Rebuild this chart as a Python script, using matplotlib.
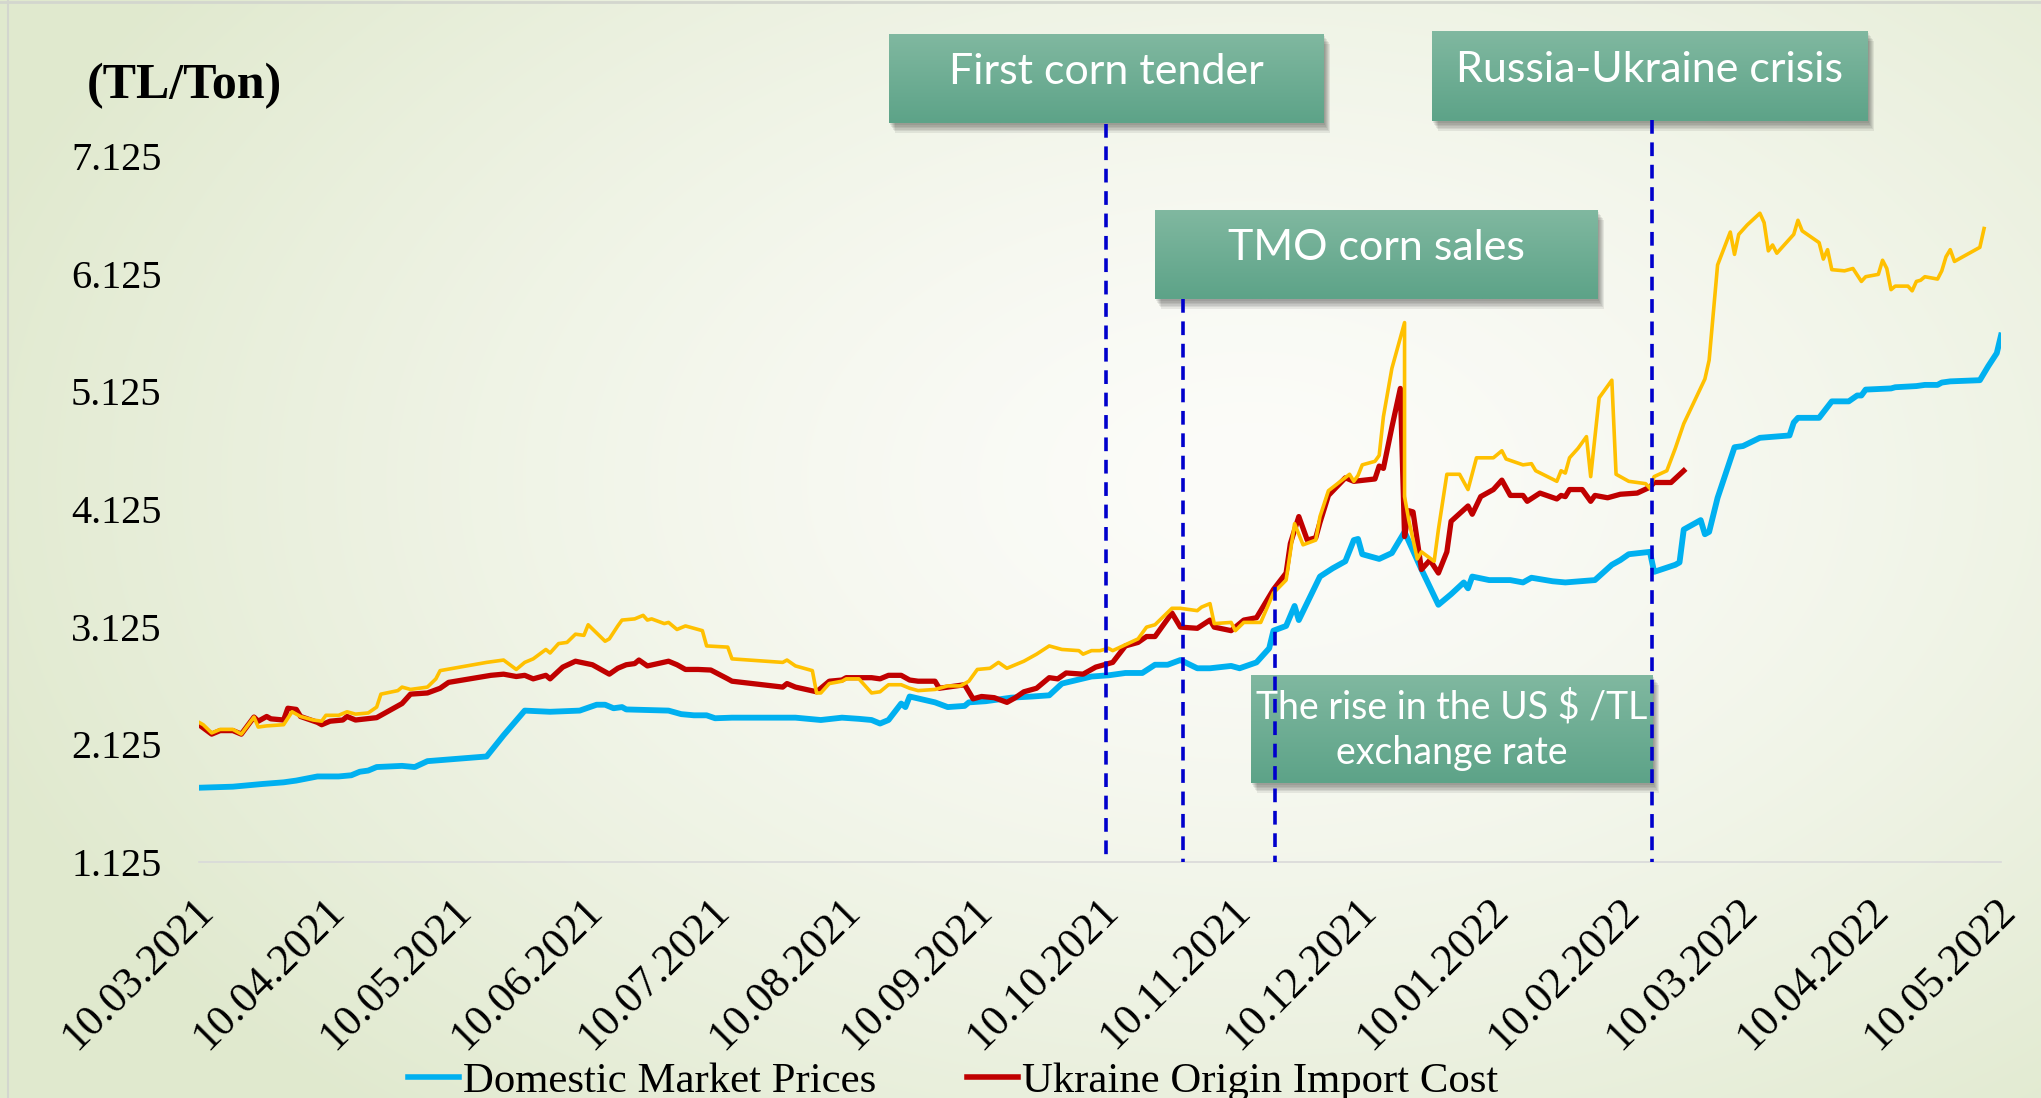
import numpy as np
import matplotlib.pyplot as plt
import matplotlib.dates as mdates
import matplotlib.transforms as mtransforms
from matplotlib.patches import Rectangle
from matplotlib.lines import Line2D

plt.rcParams['font.family'] = 'serif'
plt.rcParams['font.serif'] = ['Liberation Serif', 'DejaVu Serif']

start = np.datetime64('2021-03-10')
end = np.datetime64('2022-05-10')

# days after 10.03.2021 and values (TL/Ton)
dom_days = [0, 8, 15, 20, 23, 28, 33, 36, 38, 40, 42, 48, 51, 54, 68, 72, 77, 83, 90, 94, 96, 98,
            100, 101, 111, 114, 117, 120, 122, 126, 141, 147, 152, 156, 159, 161, 163, 166, 167,
            168, 174, 177, 181, 182, 186, 192, 197, 201, 204, 211, 215, 219, 223, 226, 229, 232,
            236, 239, 244, 246, 250, 253, 254, 257, 259, 260, 265, 268, 271, 273, 274, 275, 279,
            282, 285, 289, 293, 296, 299, 300, 301, 305, 310, 313, 315, 320, 323, 330, 334, 336,
            338, 343, 344, 349, 350, 351, 355, 356, 357, 359, 363, 365, 369, 376, 377, 378, 383,
            386, 390, 392, 393, 394, 400, 401, 406, 408, 411, 412, 414, 421, 422, 423, 425, 426]
dom_vals = [1.754, 1.763, 1.786, 1.80, 1.815, 1.85, 1.85, 1.86, 1.89, 1.90, 1.93, 1.94, 1.93, 1.98,
            2.02, 2.20, 2.41, 2.40, 2.41, 2.46, 2.46, 2.43, 2.44, 2.42, 2.41, 2.38, 2.37, 2.37,
            2.345, 2.35, 2.35, 2.33, 2.35, 2.34, 2.33, 2.30, 2.33, 2.47, 2.44, 2.53, 2.48, 2.44,
            2.45, 2.48, 2.49, 2.52, 2.53, 2.54, 2.64, 2.70, 2.71, 2.73, 2.73, 2.80, 2.80, 2.84,
            2.77, 2.77, 2.79, 2.77, 2.82, 2.94, 3.09, 3.13, 3.30, 3.18, 3.55, 3.62, 3.68, 3.86,
            3.87, 3.74, 3.70, 3.75, 3.93, 3.61, 3.31, 3.40, 3.50, 3.45, 3.55, 3.52, 3.52, 3.50,
            3.54, 3.51, 3.50, 3.52, 3.65, 3.69, 3.74, 3.76, 3.59, 3.65, 3.67, 3.95, 4.03, 3.91,
            3.93, 4.22, 4.65, 4.66, 4.73, 4.75, 4.86, 4.90, 4.90, 5.04, 5.04, 5.09, 5.09, 5.14,
            5.15, 5.16, 5.17, 5.18, 5.18, 5.20, 5.21, 5.22, 5.28, 5.34, 5.45, 5.60]

ukr_days = [0, 3, 5, 8, 10, 13, 14, 16, 17, 20, 21, 23, 24, 28, 29, 31, 34, 35, 37, 42, 48, 50,
            54, 57, 59, 69, 72, 75, 77, 79, 82, 83, 86, 89, 93, 97, 99, 101, 103, 104, 106, 111,
            113, 115, 118, 121, 125, 126, 138, 139, 141, 146, 149, 152, 153, 159, 161, 163, 166,
            168, 170, 174, 175, 181, 183, 185, 188, 191, 193, 195, 198, 201, 203, 205, 209, 212,
            216, 219, 222, 224, 226, 230, 232, 236, 239, 240, 244, 247, 250, 254, 257, 258, 260,
            262, 264, 265, 267, 271, 273, 278, 279, 280, 282, 284, 285, 286, 287, 289, 291, 293,
            295, 296, 300, 301, 303, 306, 308, 310, 313, 314, 317, 321, 322, 323, 324, 327, 329,
            330, 333, 336, 340, 343, 344, 348, 351]
ukr_vals = [2.29, 2.21, 2.24, 2.24, 2.21, 2.355, 2.32, 2.36, 2.34, 2.33, 2.43, 2.42, 2.36, 2.31,
            2.29, 2.32, 2.33, 2.36, 2.33, 2.35, 2.47, 2.55, 2.56, 2.60, 2.65, 2.71, 2.72, 2.70,
            2.71, 2.68, 2.71, 2.68, 2.78, 2.83, 2.80, 2.72, 2.77, 2.80, 2.81, 2.84, 2.79, 2.83,
            2.80, 2.76, 2.76, 2.755, 2.68, 2.66, 2.61, 2.64, 2.61, 2.57, 2.66, 2.67, 2.69, 2.69,
            2.68, 2.71, 2.71, 2.67, 2.66, 2.66, 2.60, 2.63, 2.51, 2.53, 2.52, 2.48, 2.52, 2.57,
            2.60, 2.69, 2.68, 2.73, 2.72, 2.78, 2.82, 2.96, 2.99, 3.04, 3.04, 3.24, 3.12, 3.11,
            3.18, 3.12, 3.09, 3.18, 3.20, 3.44, 3.58, 3.83, 4.06, 3.86, 3.88, 4.01, 4.24, 4.39,
            4.36, 4.38, 4.49, 4.47, 4.82, 5.15, 3.89, 4.11, 4.10, 3.61, 3.69, 3.58, 3.76, 4.02,
            4.15, 4.08, 4.23, 4.29, 4.37, 4.24, 4.24, 4.19, 4.26, 4.21, 4.24, 4.23, 4.29, 4.29,
            4.19, 4.24, 4.22, 4.25, 4.26, 4.31, 4.35, 4.35, 4.45]

oth_days = [0, 1, 3, 5, 8, 10, 13, 14, 16, 20, 22, 24, 27, 29, 30, 33, 35, 37, 40, 42, 43, 47,
            48, 50, 54, 56, 57, 68, 72, 75, 77, 79, 82, 83, 85, 87, 89, 91, 92, 96, 97, 99, 100,
            103, 105, 106, 107, 110, 111, 113, 115, 119, 120, 125, 126, 138, 139, 141, 142, 145,
            146, 147, 149, 152, 153, 156, 159, 161, 163, 166, 168, 170, 174, 177, 180, 182, 184,
            187, 189, 191, 195, 198, 201, 204, 208, 209, 211, 213, 215, 216, 219, 222, 224, 226,
            230, 232, 236, 237, 239, 240, 244, 245, 247, 251, 254, 257, 259, 261, 264, 265, 267,
            272, 273, 274, 275, 278, 279, 280, 282, 285, 285, 286, 288, 289, 292, 293, 295, 298,
            300, 302, 306, 308, 309, 313, 315, 316, 321, 322, 323, 324, 326, 328, 329, 331, 334,
            335, 336, 338, 342, 343, 344, 347, 349, 351, 356, 357, 359, 362, 363, 364, 366, 369,
            370, 371, 372, 373, 377, 378, 379, 383, 384, 385, 386, 389, 391, 393, 394, 397, 398,
            399, 400, 401, 404, 405, 406, 407, 408, 411, 412, 413, 414, 415, 421, 422]
oth_vals = [2.31, 2.29, 2.22, 2.25, 2.25, 2.21, 2.355, 2.27, 2.28, 2.29, 2.40, 2.36, 2.33, 2.32,
            2.37, 2.37, 2.40, 2.38, 2.39, 2.44, 2.55, 2.58, 2.61, 2.59, 2.61, 2.68, 2.75, 2.82,
            2.84, 2.76, 2.82, 2.85, 2.93, 2.90, 2.98, 2.99, 3.06, 3.05, 3.14, 3.00, 3.02, 3.13,
            3.18, 3.19, 3.22, 3.18, 3.19, 3.15, 3.16, 3.10, 3.13, 3.09, 2.96, 2.95, 2.85, 2.82,
            2.84, 2.79, 2.78, 2.75, 2.56, 2.56, 2.64, 2.66, 2.68, 2.68, 2.56, 2.57, 2.63, 2.63,
            2.60, 2.58, 2.59, 2.62, 2.62, 2.66, 2.76, 2.77, 2.82, 2.77, 2.83, 2.89, 2.96, 2.93,
            2.92, 2.89, 2.92, 2.92, 2.94, 2.92, 2.97, 3.02, 3.12, 3.14, 3.28, 3.28, 3.26, 3.29,
            3.32, 3.15, 3.16, 3.09, 3.16, 3.16, 3.41, 3.52, 4.00, 3.82, 3.86, 4.06, 4.28, 4.42,
            4.36, 4.41, 4.50, 4.53, 4.58, 4.91, 5.32, 5.71, 4.23, 4.03, 3.70, 3.76, 3.68, 3.95,
            4.42, 4.42, 4.29, 4.56, 4.56, 4.62, 4.55, 4.50, 4.51, 4.45, 4.36, 4.45, 4.43, 4.56,
            4.64, 4.74, 4.40, 5.07, 5.22, 4.42, 4.40, 4.36, 4.34, 4.30, 4.40, 4.45, 4.64, 4.85,
            5.23, 5.39, 6.20, 6.48, 6.29, 6.46, 6.54, 6.64, 6.56, 6.32, 6.37, 6.30, 6.46, 6.58,
            6.49, 6.39, 6.25, 6.33, 6.16, 6.15, 6.17, 6.06, 6.10, 6.12, 6.24, 6.17, 5.99, 6.02,
            6.02, 5.98, 6.06, 6.07, 6.10, 6.08, 6.15, 6.27, 6.33, 6.23, 6.35, 6.51]

yticks = [1.125, 2.125, 3.125, 4.125, 5.125, 6.125, 7.125]

# events: label, day after start, top of dashed line (TL/Ton)
events = ['First corn tender', 'TMO corn sales', 'The rise in the US $ /TL\nexchange rate',
          'Russia-Ukraine crisis']
event_days = [214.5, 232.7, 254.4, 343.6]
event_tops = [7.40, 5.91, 3.46, 7.43]

W, H = 2041, 1098
fig = plt.figure(figsize=(W / 100, H / 100), dpi=100)

# background: soft radial gradient
bg = fig.add_axes([0, 0, 1, 1], zorder=0)
yy, xx = np.mgrid[0:H, 0:W]
r = np.sqrt(((xx - 1250) / 1350.0) ** 2 + ((yy - 480) / 850.0) ** 2)
t = np.clip(r, 0, 1) ** 1.4
c0 = np.array([252, 252, 249]) / 255
c1 = np.array([224, 233, 206]) / 255
img = c0[None, None, :] * (1 - t[..., None]) + c1[None, None, :] * t[..., None]
bg.imshow(img, extent=[0, W, H, 0], aspect='auto', zorder=0)
bg.axis('off')
bg.plot([8, 8], [0, H], color='#D3D6CE', lw=1.5)
bg.plot([0, W], [2, 2], color='#D3D6CE', lw=2)

bg.text(184, 86, '(TL/Ton)', fontsize=36, fontweight='bold', ha='center', va='center')

# annotation boxes (pixel coords)
boxes = [(889, 34, 1324, 123), (1155, 210, 1598, 299), (1251, 675, 1653, 783), (1432, 31, 1868, 121)]
grad = np.linspace(0, 1, 64)[:, None, None]
top_c = np.array([128, 184, 160]) / 255
bot_c = np.array([93, 163, 136]) / 255
box_img = top_c * (1 - grad) + bot_c * grad
for (x0, y0, x1, y1), lab in zip(boxes, events):
    for k in range(6):
        d = 2 + k * 1.5
        bg.add_patch(Rectangle((x0 + d * 0.6, y0 + d), x1 - x0, y1 - y0,
                               color='black', alpha=0.07, lw=0, zorder=0.5))
    bg.imshow(np.repeat(box_img, 2, axis=1), extent=[x0, x1, y1, y0], aspect='auto', zorder=0.8)
    if '\n' in lab:
        bg.text((x0 + x1) / 2, (y0 + y1) / 2 + 1, lab, color='white', fontsize=27,
                ha='center', va='center', family=['Lato', 'DejaVu Sans'], linespacing=1.3,
                zorder=3)
    else:
        bg.text((x0 + x1) / 2, y0 + 0.43 * (y1 - y0), lab, color='white', fontsize=31,
                ha='center', va='center', family=['Lato', 'DejaVu Sans'], zorder=3)
bg.set_xlim(0, W)
bg.set_ylim(H, 0)

# main chart
ax = fig.add_axes([199 / W, (H - 861.7) / H, (2001 - 199) / W, (861.7 - 156.2) / H], zorder=2)
ax.patch.set_visible(False)

ax.plot(start + np.array(dom_days), dom_vals, color='#00B0F0', lw=4.2, solid_joinstyle='round',
        label='Domestic Market Prices', zorder=3)
ax.plot(start + np.array(ukr_days), ukr_vals, color='#C00000', lw=3.8, solid_joinstyle='round',
        label='Ukraine Origin Import Cost', zorder=4)
ax.plot(start + np.array(oth_days), oth_vals, color='#FFC000', lw=2.6, solid_joinstyle='round',
        zorder=5)

base = mdates.date2num(start)
for d, top in zip(event_days, event_tops):
    ax.plot([base + d, base + d], [top, 1.125], color='#0000CC', lw=2.6,
            linestyle=(0, (3.8, 2.4)), clip_on=False, zorder=6)

ax.set_xlim(start, end)
ax.set_ylim(1.125, 7.125)
ax.set_yticks(yticks)
ax.set_yticklabels([f'{v:.3f}' for v in yticks])
ax.xaxis.set_major_locator(mdates.MonthLocator(bymonthday=10))
ax.xaxis.set_major_formatter(mdates.DateFormatter('%d.%m.%Y'))
ax.tick_params(axis='y', length=0, pad=27, labelsize=29)
ax.tick_params(axis='x', length=0, pad=21, labelsize=31.5)
shift = mtransforms.ScaledTranslation(-6 / 100, 0, fig.dpi_scale_trans)
for lbl in ax.get_xticklabels():
    lbl.set_rotation(45)
    lbl.set_ha('right')
    lbl.set_va('top')
    lbl.set_rotation_mode('anchor')
    lbl.set_transform(lbl.get_transform() + shift)
for s in ['top', 'right', 'left']:
    ax.spines[s].set_visible(False)
ax.spines['bottom'].set_color('#D9D9D9')
ax.spines['bottom'].set_linewidth(1.2)

handles = [Line2D([], [], color='#00B0F0', lw=4), Line2D([], [], color='#C00000', lw=4)]
fig.legend(handles, ['Domestic Market Prices', 'Ukraine Origin Import Cost'], loc='center',
           bbox_to_anchor=(0.467, 0.015), ncol=2, frameon=False, fontsize=30.8,
           handlelength=1.2, handletextpad=0.1, columnspacing=2.1, borderpad=0)

fig.savefig('out.png', dpi=100)
